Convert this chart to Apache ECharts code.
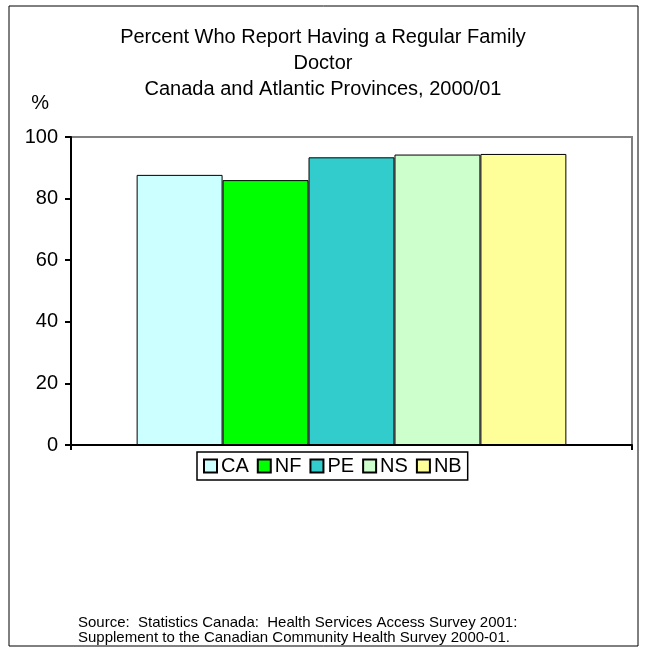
<!DOCTYPE html>
<html><head><meta charset="utf-8">
<script src="https://cdn.jsdelivr.net/npm/echarts@6/dist/echarts.min.js"></script>
<style>html,body{margin:0;padding:0;background:#fff}#c{width:646px;height:651px}</style>
</head><body><div id="c"></div>
<script>
const seriesNames = ['CA', 'NF', 'PE', 'NS', 'NB'];
const seriesValues = [87.7, 86.0, 93.4, 94.3, 94.5];
const seriesColors = ['#CCFFFF', '#00FF00', '#33CCCC', '#CCFFCC', '#FFFF99'];
const categories = [''];
const yTicks = [0, 20, 40, 60, 80, 100];

const font = 'Liberation Sans, Arial, sans-serif';
const chart = echarts.init(document.getElementById('c'));
chart.setOption({
  animation: false,
  backgroundColor: '#fff',
  title: {
    text: 'Percent Who Report Having a Regular Family\nDoctor\nCanada and Atlantic Provinces, 2000/01',
    left: 'center', top: 19,
    textStyle: { fontFamily: font, fontSize: 20, fontWeight: 'normal', color: '#000', lineHeight: 26 }
  },
  grid: { left: 71, right: 14, top: 137, bottom: 206, show: true, borderColor: '#808080', borderWidth: 2, containLabel: false },
  legend: {
    data: seriesNames, left: 197, top: 452,
    orient: 'horizontal', itemWidth: 13, itemHeight: 13, itemGap: 8,
    padding: [4, 6, 4, 6], borderColor: '#000', borderWidth: 1.5,
    icon: 'rect',
    textStyle: { fontFamily: font, fontSize: 20, color: '#000', padding: [0, 0, 0, -1] }
  },
  xAxis: {
    type: 'category', data: categories, boundaryGap: true,
    axisLine: { lineStyle: { color: '#000', width: 2 } },
    axisTick: { show: true, length: 5, lineStyle: { color: '#000', width: 2 } },
    axisLabel: { show: false }, splitLine: { show: false }
  },
  yAxis: {
    type: 'value', min: 0, max: 100, interval: 20,
    name: '%', nameLocation: 'end', nameGap: 24,
    nameTextStyle: { fontFamily: font, fontSize: 20, color: '#000', align: 'right', padding: [0, 22, 0, 0] },
    axisLine: { show: true, lineStyle: { color: '#000', width: 2 } },
    axisTick: { show: true, inside: false, length: 6, lineStyle: { color: '#000', width: 2 } },
    axisLabel: { fontFamily: font, fontSize: 20, color: '#000', margin: 13,
      formatter: v => yTicks.includes(v) ? String(v) : '' },
    splitLine: { show: false }
  },
  series: seriesNames.map((n, i) => ({
    name: n, type: 'bar', data: [seriesValues[i]],
    barGap: '0%', barCategoryGap: '23.4%',
    itemStyle: { color: seriesColors[i], borderColor: '#000', borderWidth: 1 }
  })),
  graphic: [
    { type: 'rect', shape: { x: 9, y: 6, width: 629, height: 640 }, style: { fill: 'none', stroke: '#000', lineWidth: 1 }, silent: true, z: -1 },
    { type: 'text', left: 78, top: 615, style: { text: 'Source:  Statistics Canada:  Health Services Access Survey 2001:\nSupplement to the Canadian Community Health Survey 2000-01.', font: '15px ' + font, fill: '#000', lineHeight: 15 } }
  ]
});
</script></body></html>
